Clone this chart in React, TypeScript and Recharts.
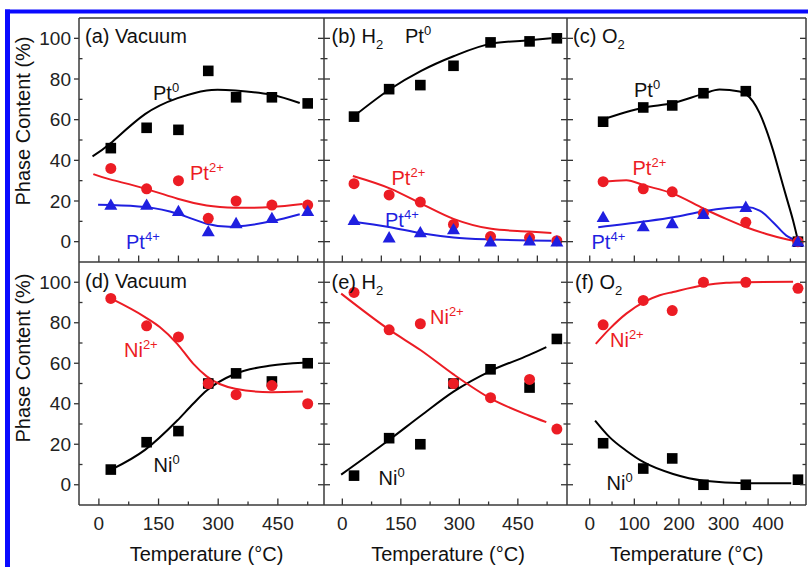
import React from 'react';
import { ComposedChart, Line, Scatter, XAxis, YAxis } from 'recharts';

// ---------- data ----------
const tVac = [30, 120, 200, 275, 345, 435, 525];
const tH2 = [30, 120, 200, 285, 380, 480, 550];
const tO2 = [30, 120, 185, 255, 350, 467];

const pt0Vac = [46, 56, 55, 84, 71, 71, 68];
const pt2Vac = [36, 26, 30, 11.5, 20, 18, 18];
const pt4Vac = [18, 18, 15, 5, 9, 11.5, 15];

const pt0H2 = [61.5, 75, 77, 86.5, 98, 98.5, 100];
const pt2H2 = [28.5, 23, 19.5, 8.5, 2.5, 2, 0.5];
const pt4H2 = [10.5, 2, 4.5, 6, 0, 0.5, 0];

const pt0O2 = [59, 66, 67, 73, 74, 0];
const pt2O2 = [29.5, 26, 24.5, 14, 9.5, 0];
const pt4O2 = [12, 7.5, 9, 13.5, 17, 0];

const ni2Vac = [92, 78.5, 73, 50, 44.5, 49, 40];
const ni0Vac = [7.5, 21, 26.5, 50, 55, 51, 60];

const ni2H2 = [95, 76.5, 79.5, 50, 43, 52, 27.5];
const ni0H2 = [4.5, 23, 20, 50, 57, 48, 72];

const ni2O2 = [79, 91, 86, 100, 100, 97];
const ni0O2 = [20.5, 8, 13, 0, 0, 2.5];

// fitted curves (temperature, value)
const fitPt0VacT = [-16, 30, 116, 198, 271, 343, 433, 505];
const fitPt0VacV = [42, 48.5, 62.7, 70.6, 74.4, 74.3, 72.3, 68.2];
const fitPt2VacT = [-14, 30, 116, 198, 271, 343, 433, 512];
const fitPt2VacV = [33.2, 30.5, 26.1, 21.1, 17.8, 16.7, 17, 18.5];
const fitPt4VacT = [-2, 30, 116, 198, 271, 343, 433, 505];
const fitPt4VacV = [18.2, 18, 17, 13.7, 8.8, 7.4, 10, 13.5];

const fitPt0H2T = [31, 123, 202, 285, 382, 478, 536];
const fitPt0H2V = [61.9, 75.1, 84, 91.2, 97.4, 99, 100];
const fitPt2H2T = [27, 123, 202, 285, 382, 478, 536];
const fitPt2H2V = [32.3, 26.1, 18.7, 11.2, 6.3, 5, 4.3];
const fitPt4H2T = [19, 123, 202, 285, 382, 478, 536];
const fitPt4H2V = [10, 7.1, 4.1, 2.1, 1.1, 0.6, 0.5];

const fitPt0O2T = [22, 122, 187, 256, 291, 336, 366, 381, 396, 411, 426, 441, 456, 467];
const fitPt0O2V = [59.6, 66, 68.2, 72.8, 74.8, 73.9, 69, 63.2, 55, 45, 33.5, 21.9, 10.4, 0.5];
const fitPt2O2T = [26, 82, 122, 187, 256, 306, 351, 396, 441, 467];
const fitPt2O2V = [29.4, 30.2, 27.7, 23.6, 16.2, 11.2, 7.1, 3.8, 1.2, 0];
const fitPt4O2T = [19, 122, 187, 256, 351, 381, 411, 441, 466];
const fitPt4O2V = [7.1, 9.9, 12, 15, 17, 15.3, 9.6, 3, 0.5];

const fitNi2VacT = [30, 116, 153, 197, 237, 271, 343, 433, 513];
const fitNi2VacV = [92, 82.8, 77.9, 69.6, 59.8, 53.5, 47.4, 45.7, 46];
const fitNi0VacT = [30, 116, 197, 237, 271, 343, 433, 513];
const fitNi0VacV = [7.3, 17.2, 31.7, 40, 46.5, 54.8, 58.9, 60.3];

const fitNi2H2T = [-3, 123, 202, 285, 382, 478, 523];
const fitNi2H2V = [94.4, 76.2, 66.3, 54.5, 42.4, 34.2, 30.9];
const fitNi0H2T = [-3, 123, 202, 285, 382, 478, 523];
const fitNi0H2V = [5, 22.6, 34.2, 46, 56.4, 64, 68];

const fitNi2O2T = [13.5, 45, 82, 122, 157, 187, 256, 306, 351, 456];
const fitNi2O2V = [69.6, 77.1, 84.5, 90.3, 93.6, 95.2, 98.5, 99.7, 100, 100.2];
const fitNi0O2T = [12, 45, 82, 122, 187, 256, 351, 452];
const fitNi0O2V = [31.7, 23.4, 16.8, 11, 5.3, 2, 0.8, 0.8];

const yTicks = [0, 10, 20, 30, 40, 50, 60, 70, 80, 90, 100];
const xTicksTop = [0, 50, 100, 150, 200, 250, 300, 350, 400, 450, 500, 550];
const xTicksTopO2 = [0, 50, 100, 150, 200, 250, 300, 350, 400, 450];
const xTicksBot = [0, 75, 150, 225, 300, 375, 450, 525];
const xTicksBotO2 = [0, 50, 100, 150, 200, 250, 300, 350, 400, 450];

// ---------- style / layout ----------
const FONT = "'Liberation Sans', Arial, Helvetica, sans-serif";
const RED = '#ec1c24';
const BLUE = '#1f1fe0';
const BLACK = '#000';
const AX = '#333';

const COLS = [
  { l: 79, r: 324, dom: [-50, 566] },
  { l: 324, r: 567, dom: [-47, 576] },
  { l: 567, r: 806, dom: [-51, 485] },
];
const ROWS = [
  { t: 18, b: 262 },
  { t: 262, b: 505 },
];

const zip = (ts: number[], vs: number[]) => ts.map((t, i) => ({ t, v: vs[i] }));

const Square = (p: any) => <rect x={p.cx - 5.3} y={p.cy - 5.3} width={10.6} height={10.6} fill={BLACK} />;
const Dot = (p: any) => <circle cx={p.cx} cy={p.cy} r={5.5} fill={RED} />;
const Tri = (p: any) => (
  <polygon points={`${p.cx},${p.cy - 6.5} ${p.cx - 6.5},${p.cy + 4.8} ${p.cx + 6.5},${p.cy + 4.8}`} fill={BLUE} />
);

const xTick = (labels: boolean, majorEvery: number) => (p: any) => {
  const { x, y, payload } = p;
  const v = payload.value;
  const major = v % majorEvery === 0;
  const len = major ? 6.5 : 3.5;
  return (
    <g>
      <line x1={x} x2={x} y1={y} y2={y - len} stroke={AX} strokeWidth={1.3} />
      {labels && major && (
        <text x={x} y={y + 25} textAnchor="middle" fontSize={19} fontFamily={FONT} fill="#222">
          {v}
        </text>
      )}
    </g>
  );
};

const yTick = (outer: boolean, w: number) => (p: any) => {
  const { x, y, payload } = p;
  const v = payload.value;
  const major = v % 20 === 0;
  const len = major ? 6 : 3.5;
  return (
    <g>
      {outer && major ? (
        <line x1={x - 5} x2={x} y1={y} y2={y} stroke={AX} strokeWidth={1.3} />
      ) : (
        <line x1={x} x2={x + len} y1={y} y2={y} stroke={AX} strokeWidth={1.3} />
      )}
      <line x1={x + w} x2={x + w - len} y1={y} y2={y} stroke={AX} strokeWidth={1.3} />
      {outer && major && (
        <text x={x - 8} y={y + 6.7} textAnchor="end" fontSize={19} fontFamily={FONT} fill="#222">
          {v}
        </text>
      )}
    </g>
  );
};

type Pt = { t: number; v: number };
type Series = { pts: Pt[]; fit: Pt[]; color: string; shape: any; curve?: any };

function Panel({ col, row, xTicks, xMajor, series }: { col: number; row: number; xTicks: number[]; xMajor: number; series: Series[] }) {
  const c = COLS[col];
  const r = ROWS[row];
  const w = c.r - c.l;
  return (
    <div style={{ position: 'absolute', left: 0, top: 0 }}>
      <ComposedChart
        width={808}
        height={567}
        margin={{ top: r.t, bottom: 567 - r.b - 2, left: c.l - 2, right: 808 - c.r }}
      >
        <XAxis
          type="number"
          dataKey="t"
          domain={c.dom}
          allowDataOverflow
          ticks={xTicks}
          interval={0}
          height={2}
          tickSize={0}
          tickMargin={0}
          axisLine={false}
          tickLine={false}
          tick={xTick(row === 1, xMajor)}
        />
        <YAxis
          type="number"
          dataKey="v"
          domain={[-10, 110]}
          allowDataOverflow
          ticks={yTicks}
          interval={0}
          width={2}
          tickSize={0}
          tickMargin={0}
          axisLine={false}
          tickLine={false}
          tick={yTick(col === 0, w)}
        />
        {series.map((s, i) => (
          <Line
            key={'l' + i}
            data={s.fit}
            dataKey="v"
            type={s.curve || 'natural'}
            stroke={s.color}
            strokeWidth={2}
            dot={false}
            activeDot={false}
            isAnimationActive={false}
          />
        ))}
        {series.map((s, i) => (
          <Scatter key={'s' + i} data={s.pts} shape={s.shape} isAnimationActive={false} />
        ))}
      </ComposedChart>
    </div>
  );
}

function Lab({ x, y, main, sup, sub, color = '#111', size = 20 }: any) {
  return (
    <text x={x} y={y} fontSize={size} fontFamily={FONT} fill={color}>
      {main}
      {sup && (
        <tspan dy={-8} fontSize={13}>
          {sup}
        </tspan>
      )}
      {sub && (
        <tspan dy={6} fontSize={13}>
          {sub}
        </tspan>
      )}
    </text>
  );
}

export default function App() {
  return (
    <div style={{ position: 'absolute', left: 0, top: 0, width: 808, height: 567, background: '#fff', overflow: 'hidden' }}>
      <Panel
        col={0}
        row={0}
        xTicks={xTicksTop}
        xMajor={100}
        series={[
          { pts: zip(tVac, pt0Vac), fit: zip(fitPt0VacT, fitPt0VacV), color: BLACK, shape: Square },
          { pts: zip(tVac, pt2Vac), fit: zip(fitPt2VacT, fitPt2VacV), color: RED, shape: Dot },
          { pts: zip(tVac, pt4Vac), fit: zip(fitPt4VacT, fitPt4VacV), color: BLUE, shape: Tri },
        ]}
      />
      <Panel
        col={1}
        row={0}
        xTicks={xTicksTop}
        xMajor={100}
        series={[
          { pts: zip(tH2, pt0H2), fit: zip(fitPt0H2T, fitPt0H2V), color: BLACK, shape: Square, curve: 'monotone' },
          { pts: zip(tH2, pt2H2), fit: zip(fitPt2H2T, fitPt2H2V), color: RED, shape: Dot, curve: 'monotone' },
          { pts: zip(tH2, pt4H2), fit: zip(fitPt4H2T, fitPt4H2V), color: BLUE, shape: Tri, curve: 'monotone' },
        ]}
      />
      <Panel
        col={2}
        row={0}
        xTicks={xTicksTopO2}
        xMajor={100}
        series={[
          { pts: zip(tO2, pt0O2), fit: zip(fitPt0O2T, fitPt0O2V), color: BLACK, shape: Square, curve: 'monotone' },
          { pts: zip(tO2, pt2O2), fit: zip(fitPt2O2T, fitPt2O2V), color: RED, shape: Dot, curve: 'monotone' },
          { pts: zip(tO2, pt4O2), fit: zip(fitPt4O2T, fitPt4O2V), color: BLUE, shape: Tri, curve: 'monotone' },
        ]}
      />
      <Panel
        col={0}
        row={1}
        xTicks={xTicksBot}
        xMajor={150}
        series={[
          { pts: zip(tVac, ni0Vac), fit: zip(fitNi0VacT, fitNi0VacV), color: BLACK, shape: Square, curve: 'monotone' },
          { pts: zip(tVac, ni2Vac), fit: zip(fitNi2VacT, fitNi2VacV), color: RED, shape: Dot, curve: 'monotone' },
        ]}
      />
      <Panel
        col={1}
        row={1}
        xTicks={xTicksBot}
        xMajor={150}
        series={[
          { pts: zip(tH2, ni0H2), fit: zip(fitNi0H2T, fitNi0H2V), color: BLACK, shape: Square, curve: 'monotone' },
          { pts: zip(tH2, ni2H2), fit: zip(fitNi2H2T, fitNi2H2V), color: RED, shape: Dot, curve: 'monotone' },
        ]}
      />
      <Panel
        col={2}
        row={1}
        xTicks={xTicksBotO2}
        xMajor={100}
        series={[
          { pts: zip(tO2, ni0O2), fit: zip(fitNi0O2T, fitNi0O2V), color: BLACK, shape: Square, curve: 'monotone' },
          { pts: zip(tO2, ni2O2), fit: zip(fitNi2O2T, fitNi2O2V), color: RED, shape: Dot, curve: 'monotone' },
        ]}
      />

      <svg width={808} height={567} style={{ position: 'absolute', left: 0, top: 0, pointerEvents: 'none' }}>
        {/* blue page border */}
        <rect x={5} y={9.5} width={803} height={4} fill="#0a0aff" />
        <rect x={5} y={9.5} width={5} height={558} fill="#0a0aff" />

        {/* frames */}
        <g stroke="#3a3a3a" strokeWidth={1.5} fill="none">
          <line x1={79} x2={806} y1={18} y2={18} />
          <line x1={79} x2={806} y1={262} y2={262} />
          <line x1={79} x2={806} y1={505} y2={505} />
          <line x1={79} x2={79} y1={18} y2={505} />
          <line x1={324} x2={324} y1={18} y2={505} />
          <line x1={567} x2={567} y1={18} y2={505} />
          <line x1={806} x2={806} y1={18} y2={505} />
        </g>

        {/* axis titles */}
        <text transform="translate(29.5,121) rotate(-90)" textAnchor="middle" fontSize={20} fontFamily={FONT} fill="#111">
          Phase Content (%)
        </text>
        <text transform="translate(29.5,358) rotate(-90)" textAnchor="middle" fontSize={20} fontFamily={FONT} fill="#111">
          Phase Content (%)
        </text>
        <text x={206.5} y={561} textAnchor="middle" fontSize={20} fontFamily={FONT} fill="#111">
          Temperature (°C)
        </text>
        <text x={448} y={561} textAnchor="middle" fontSize={20} fontFamily={FONT} fill="#111">
          Temperature (°C)
        </text>
        <text x={686.5} y={561} textAnchor="middle" fontSize={20} fontFamily={FONT} fill="#111">
          Temperature (°C)
        </text>

        {/* panel labels */}
        <Lab x={85} y={43} main="(a) Vacuum" />
        <Lab x={331.5} y={43} main="(b) H" sub="2" />
        <Lab x={573} y={43} main="(c) O" sub="2" />
        <Lab x={85} y={287.5} main="(d) Vacuum" />
        <Lab x={331.5} y={288.5} main="(e) H" sub="2" />
        <Lab x={575} y={288.5} main="(f) O" sub="2" />

        {/* series annotations */}
        <Lab x={153} y={100} main="Pt" sup="0" />
        <Lab x={190} y={180} main="Pt" sup="2+" color={RED} />
        <Lab x={126} y={248.5} main="Pt" sup="4+" color={BLUE} />

        <Lab x={405} y={43} main="Pt" sup="0" />
        <Lab x={391.5} y={184.5} main="Pt" sup="2+" color={RED} />
        <Lab x={385} y={227} main="Pt" sup="4+" color={BLUE} />

        <Lab x={634} y={96.5} main="Pt" sup="0" />
        <Lab x={632.5} y={175} main="Pt" sup="2+" color={RED} />
        <Lab x={591.5} y={248.5} main="Pt" sup="4+" color={BLUE} />

        <Lab x={124} y={356.5} main="Ni" sup="2+" color={RED} />
        <Lab x={153.5} y={472} main="Ni" sup="0" />

        <Lab x={430} y={323.5} main="Ni" sup="2+" color={RED} />
        <Lab x={378.5} y={485} main="Ni" sup="0" />

        <Lab x={610} y={347} main="Ni" sup="2+" color={RED} />
        <Lab x={606.5} y={490} main="Ni" sup="0" />
      </svg>
    </div>
  );
}
